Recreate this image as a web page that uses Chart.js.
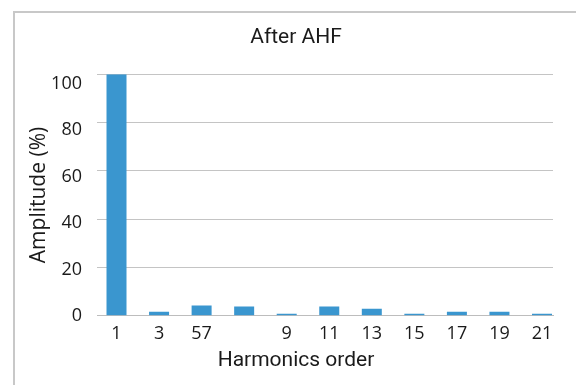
<!DOCTYPE html>
<html>
<head>
<meta charset="utf-8">
<title>After AHF</title>
<script src="https://cdn.jsdelivr.net/npm/chart.js@4/dist/chart.umd.min.js"></script>
<style>
    html, body { margin: 0; padding: 0; background: #fff; }
    #wrap { position: relative; width: 576px; height: 385px; }
</style>
</head>
<body>
<div id="wrap">
    <canvas id="ahfChart" width="576" height="385"></canvas>
</div>
<script>
// Harmonic spectrum after the active harmonic filter
const harmonicOrders = [1, 3, 5, 7, 9, 11, 13, 15, 17, 19, 21];
const tickLabels = ['1', '3', '57', '', '9', '11', '13', '15', '17', '19', '21'];
const amplitudes = [100, 1.7, 4.3, 3.8, 0.8, 3.8, 2.9, 0.8, 1.7, 1.7, 0.8];
const yTicks = [0, 20, 40, 60, 80, 100];

// light grey frame at top and left, like the source slide
const framePlugin = {
    id: 'frame',
    beforeDraw(chart) {
        const ctx = chart.ctx;
        ctx.save();
        ctx.strokeStyle = '#c8c8c8';
        ctx.lineWidth = 2;
        ctx.beginPath();
        ctx.moveTo(576, 12);
        ctx.lineTo(14, 12);
        ctx.lineTo(14, 385);
        ctx.stroke();
        ctx.restore();
    }
};

document.addEventListener('DOMContentLoaded', () => {
    const ctx = document.getElementById('ahfChart').getContext('2d');
    const points = harmonicOrders.map((h, i) => ({ x: h, y: amplitudes[i] }));

    new Chart(ctx, {
        type: 'bar',
        data: {
            datasets: [{
                label: 'Amplitude',
                data: points,
                backgroundColor: '#3a96cf',
                barPercentage: 0.47,
                categoryPercentage: 1,
                yAxisID: 'y'
            }]
        },
        plugins: [framePlugin],
        options: {
            responsive: false,
            animation: false,
            layout: {
                padding: { left: 16, right: 0, top: 0, bottom: 0 }
            },
            plugins: {
                legend: { display: false },
                tooltip: { enabled: false },
                title: {
                    display: true,
                    text: 'After AHF',
                    color: '#1a1a1a',
                    font: { family: 'Roboto', size: 21, weight: 'normal' },
                    padding: { top: 25, bottom: 24 }
                },
                // x axis caption sits centred on the whole frame, not on the plot
                subtitle: {
                    display: true,
                    position: 'bottom',
                    text: 'Harmonics order',
                    color: '#1a1a1a',
                    font: { family: 'Roboto', size: 21, weight: 'normal' },
                    padding: { top: 4, bottom: 12 }
                }
            },
            scales: {
                x: {
                    type: 'linear',
                    offset: false,
                    min: 0.083,
                    max: 21.517,
                    afterBuildTicks(scale) {
                        scale.ticks = harmonicOrders.map(v => ({ value: v }));
                    },
                    grid: { display: false, drawTicks: false },
                    border: { display: true, color: '#bdbdbd', width: 1 },
                    ticks: {
                        color: '#1a1a1a',
                        font: { family: 'Open Sans', size: 18 },
                        padding: 7,
                        maxRotation: 0,
                        autoSkip: false,
                        callback: (value, index) => tickLabels[index]
                    },
                    afterFit(scale) { scale.height = 28; }
                },
                y: {
                    position: 'left',
                    min: 0,
                    max: 100,
                    afterBuildTicks(scale) {
                        scale.ticks = yTicks.map(v => ({ value: v }));
                    },
                    grid: { color: '#c4c4c4', lineWidth: 1, drawTicks: false },
                    border: { display: false },
                    ticks: { display: false },
                    afterFit(scale) { scale.width = 0; }
                },
                // label axis: the source's tick text drifts a little from the gridlines
                yLab: {
                    position: 'left',
                    min: 0,
                    max: 104.2,
                    afterBuildTicks(scale) {
                        scale.ticks = yTicks.map(v => ({ value: v }));
                    },
                    grid: { display: false, drawTicks: false },
                    border: { display: false },
                    ticks: {
                        color: '#1a1a1a',
                        font: { family: 'Open Sans', size: 18 },
                        padding: 15
                    },
                    title: {
                        display: true,
                        text: 'Amplitude (%)',
                        color: '#1a1a1a',
                        font: { family: 'Open Sans', size: 21 },
                        padding: { top: 10 }
                    },
                    afterFit(scale) { scale.width = 81; }
                },
                // empty right strip so the plot stops where the source's does
                yR: {
                    position: 'right',
                    grid: { display: false, drawTicks: false },
                    border: { display: false },
                    ticks: { display: false },
                    afterFit(scale) { scale.width = 23; }
                }
            }
        }
    });
});
</script>
</body>
</html>
